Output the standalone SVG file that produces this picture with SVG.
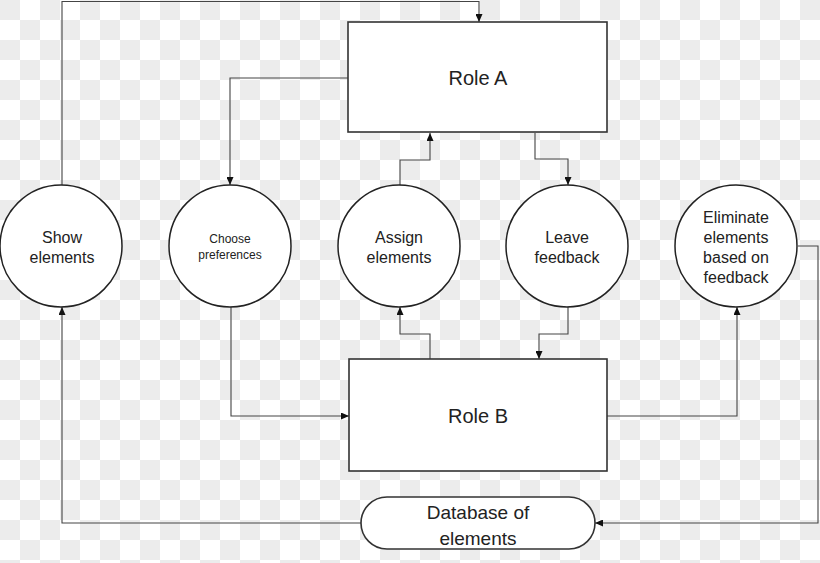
<svg xmlns="http://www.w3.org/2000/svg" width="820" height="563" viewBox="0 0 820 563">
<style>
.box{fill:#fff;stroke:#333;stroke-width:1.6}
.circ{fill:#fff;stroke:#222;stroke-width:1.5}
.lbl{font-family:"Liberation Sans",Arial,sans-serif;fill:#222;text-anchor:middle;dominant-baseline:central}
.con{fill:none;stroke:#444;stroke-width:1.1}
</style>
<defs>
<pattern id="chk" x="0" y="0" width="40" height="40" patternUnits="userSpaceOnUse">
<rect width="40" height="40" fill="#ffffff"/>
<rect x="0" y="0" width="20" height="20" fill="#ececec"/>
<rect x="20" y="20" width="20" height="20" fill="#ececec"/>
</pattern>
<marker id="arr" viewBox="0 0 8 7" refX="8" refY="3.5" markerWidth="8" markerHeight="7" markerUnits="userSpaceOnUse" orient="auto">
<path d="M0,0 L8,3.5 L0,7 z" fill="#111"/>
</marker>
</defs>
<rect width="820" height="563" fill="url(#chk)"/>
<g id="connectors">
<path class="con" d="M62,185 V1.5 H479 V22" marker-end="url(#arr)"/>
<path class="con" d="M348,78 H230 V185" marker-end="url(#arr)"/>
<path class="con" d="M400,185 V160 H430 V133" marker-end="url(#arr)"/>
<path class="con" d="M535,133 V159 H568 V185" marker-end="url(#arr)"/>
<path class="con" d="M231,307 V416 H349" marker-end="url(#arr)"/>
<path class="con" d="M430,359 V334 H400 V307" marker-end="url(#arr)"/>
<path class="con" d="M568,307 V334 H539 V359" marker-end="url(#arr)"/>
<path class="con" d="M607,416 H737 V307" marker-end="url(#arr)"/>
<path class="con" d="M798,246 H818 V523 H595" marker-end="url(#arr)"/>
<path class="con" d="M361,523 H62 V307" marker-end="url(#arr)"/>
</g>
<g id="roleA">
<rect class="box" x="348" y="22" width="259" height="110"/>
<text class="lbl" x="478" y="78" font-size="20">Role A</text>
</g>
<g id="roleB">
<rect class="box" x="349" y="359" width="258" height="112"/>
<text class="lbl" x="478" y="416" font-size="20">Role B</text>
</g>
<g id="show">
<circle class="circ" cx="61" cy="246" r="61"/>
<text class="lbl" font-size="16"><tspan x="62" y="237">Show</tspan><tspan x="62" y="257">elements</tspan></text>
</g>
<g id="choose">
<circle class="circ" cx="230" cy="246" r="61"/>
<text class="lbl" font-size="12"><tspan x="230" y="239">Choose</tspan><tspan x="230" y="255">preferences</tspan></text>
</g>
<g id="assign">
<circle class="circ" cx="399" cy="246" r="61"/>
<text class="lbl" font-size="16"><tspan x="399" y="237">Assign</tspan><tspan x="399" y="257">elements</tspan></text>
</g>
<g id="leave">
<circle class="circ" cx="567" cy="246" r="61"/>
<text class="lbl" font-size="16"><tspan x="567" y="237">Leave</tspan><tspan x="567" y="257">feedback</tspan></text>
</g>
<g id="eliminate">
<circle class="circ" cx="736" cy="246" r="61"/>
<text class="lbl" font-size="16"><tspan x="736" y="217">Eliminate</tspan><tspan x="736" y="237">elements</tspan><tspan x="736" y="257">based on</tspan><tspan x="736" y="277">feedback</tspan></text>
</g>
<g id="database">
<rect class="box" x="361" y="497" width="234" height="52" rx="26" ry="26"/>
<text class="lbl" font-size="19"><tspan x="478" y="512">Database of</tspan><tspan x="478" y="538">elements</tspan></text>
</g>
</svg>
